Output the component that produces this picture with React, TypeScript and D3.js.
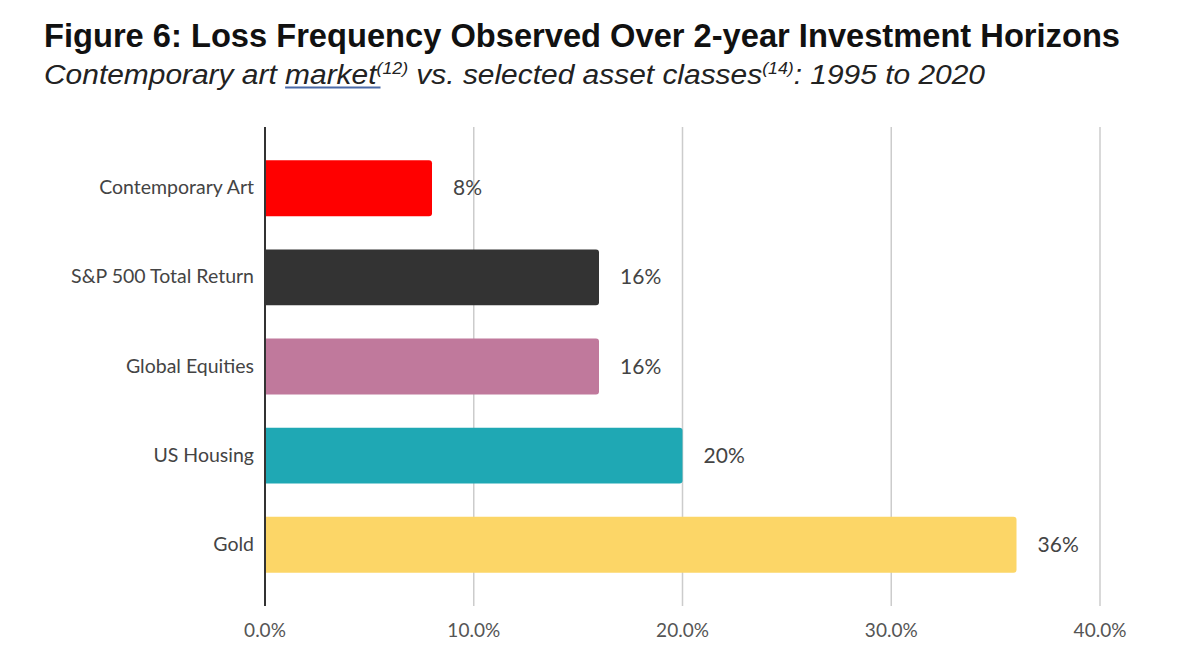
import { useLayoutEffect, useRef, useState } from "react";
import * as d3 from "d3";

const categories = ["Contemporary Art", "S&P 500 Total Return", "Global Equities", "US Housing", "Gold"];
const values = [8, 16, 16, 20, 36];
const colors = ["#ff0000", "#333333", "#c0799c", "#1fa8b4", "#fcd667"];
const xTicks = [0, 10, 20, 30, 40];

const width = 1200;
const height = 652;
const plot = { left: 265, right: 1100, top: 127, bottom: 606 };
const labelFont = "Lato, Open Sans, sans-serif";

export default function App() {
  const marketRef = useRef<SVGTSpanElement>(null);
  const [underline, setUnderline] = useState<{ x1: number; x2: number } | null>(null);

  useLayoutEffect(() => {
    const el = marketRef.current;
    if (!el) return;
    const start = el.getStartPositionOfChar(0).x;
    setUnderline({ x1: start, x2: start + el.getComputedTextLength() + 4 });
  }, []);

  const x = d3.scaleLinear().domain([0, 40]).range([plot.left, plot.right]);
  const y = d3.scaleBand<string>().domain(categories).range([plot.top, plot.bottom]).padding(0.373);
  const r = 3;

  const barPath = (v: number, cat: string) => {
    const x0 = x(0);
    const x1 = x(v);
    const y0 = y(cat) ?? 0;
    const h = y.bandwidth();
    return `M${x0},${y0}H${x1 - r}Q${x1},${y0} ${x1},${y0 + r}V${y0 + h - r}Q${x1},${y0 + h} ${x1 - r},${y0 + h}H${x0}Z`;
  };

  return (
    <div style={{ position: "absolute", left: 0, top: 0 }}>
      <svg width={width} height={height} viewBox={`0 0 ${width} ${height}`} style={{ display: "block", background: "#fff" }}>
        <text x={44} y={47} fontFamily="Liberation Sans, Arial, sans-serif" fontWeight="bold" fontSize={33} fill="#111"
          textLength={1076} lengthAdjust="spacingAndGlyphs">
          Figure 6: Loss Frequency Observed Over 2-year Investment Horizons
        </text>
        <text x={44} y={84} fontFamily="Liberation Sans, Arial, sans-serif" fontStyle="italic" fontSize={27} fill="#222"
          textLength={941} lengthAdjust="spacingAndGlyphs">
          <tspan>Contemporary art </tspan>
          <tspan ref={marketRef}>market</tspan>
          <tspan fontSize={16} dy={-10}>(12)</tspan>
          <tspan dy={10}> vs. selected asset classes</tspan>
          <tspan fontSize={16} dy={-10}>(14)</tspan>
          <tspan dy={10}>: 1995 to 2020</tspan>
        </text>
        {underline && (
          <line x1={underline.x1} x2={underline.x2} y1={87.5} y2={87.5} stroke="#4a6aa8" strokeWidth={2} />
        )}

        {xTicks.map((t) => (
          <g key={t}>
            {t > 0 && <line x1={x(t)} x2={x(t)} y1={plot.top} y2={plot.bottom} stroke="#cccccc" strokeWidth={1.5} />}
            <text x={x(t)} y={637} textAnchor="middle" fontFamily={labelFont} fontSize={19} fill="#555">
              {t.toFixed(1)}%
            </text>
          </g>
        ))}

        {categories.map((c, i) => (
          <g key={c}>
            <path d={barPath(values[i], c)} fill={colors[i]} />
            <text x={254} y={(y(c) ?? 0) + y.bandwidth() / 2 + 6} textAnchor="end" fontFamily={labelFont} fontSize={19.5} fill="#444">
              {c}
            </text>
            <text x={x(values[i]) + 21} y={(y(c) ?? 0) + y.bandwidth() / 2 + 7} fontFamily={labelFont} fontSize={21} fill="#444">
              {values[i]}%
            </text>
          </g>
        ))}

        <line x1={x(0)} x2={x(0)} y1={plot.top} y2={plot.bottom} stroke="#333" strokeWidth={2} />
      </svg>
    </div>
  );
}
